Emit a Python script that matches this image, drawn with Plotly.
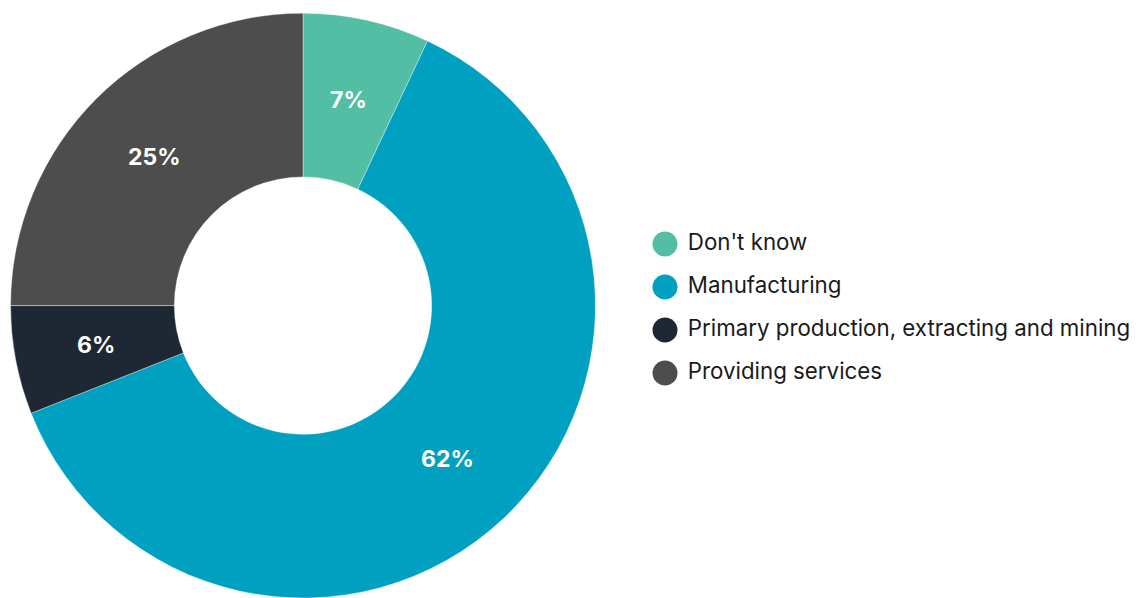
import math
import plotly.graph_objects as go

# Survey breakdown by main business activity (percent of respondents)
categories = ["Don't know", "Manufacturing",
              "Primary production, extracting and mining", "Providing services"]
shares = [7, 62, 6, 25]
colors = ["#52bfa5", "#00a0c0", "#1e2835", "#4d4d4d"]

FONT = "Inter, Liberation Sans, Arial, sans-serif"
W, H = 1140, 598
HOLE = 0.44

# Donut placement (paper fractions)
pie_x = [8 / W, 598 / W]
pie_y = [0.0, 0.978]

fig = go.Figure()

fig.add_trace(go.Pie(
    labels=categories,
    values=shares,
    sort=False,
    direction="clockwise",
    rotation=0,
    hole=HOLE,
    marker=dict(colors=colors, line=dict(color="rgba(255,255,255,0.6)", width=0.6)),
    textinfo="none",
    domain=dict(x=pie_x, y=pie_y),
    showlegend=False,
    hoverinfo="skip",
))

# Percentage labels centred in each ring segment (mid-angle, mid-radius)
cx = (pie_x[0] + pie_x[1]) / 2 * W
cy = (1 - (pie_y[0] + pie_y[1]) / 2) * H
r_out = min((pie_x[1] - pie_x[0]) * W, (pie_y[1] - pie_y[0]) * H) / 2
r_mid = r_out * (1 + HOLE) / 2
total = sum(shares)
cum = 0
for v in shares:
    mid = (cum + v / 2) / total * 2 * math.pi
    cum += v
    px = cx + r_mid * math.sin(mid)
    py = cy - r_mid * math.cos(mid)
    fig.add_annotation(
        x=px / W, y=1 - py / H, xref="paper", yref="paper",
        text=f"{v}%", showarrow=False, xanchor="center", yanchor="middle",
        font=dict(family=FONT, size=23, color="white", weight="bold"),
    )

# Legend drawn as a column of circles with labels beside them
legend_rows = list(range(len(categories)))
fig.add_trace(go.Scatter(
    x=[0] * len(categories),
    y=legend_rows,
    mode="markers",
    marker=dict(size=25, color=colors, line=dict(width=0)),
    xaxis="x", yaxis="y",
    showlegend=False,
    hoverinfo="skip",
))
fig.add_trace(go.Scatter(
    x=[0.6] * len(categories),
    y=legend_rows,
    mode="text",
    text=categories,
    textposition="middle right",
    textfont=dict(family=FONT, size=22.3, color="#1a1a1a"),
    xaxis="x", yaxis="y",
    showlegend=False,
    hoverinfo="skip",
))

fig.update_layout(
    width=W,
    height=H,
    margin=dict(l=0, r=0, t=0, b=0),
    paper_bgcolor="white",
    plot_bgcolor="rgba(0,0,0,0)",
    xaxis=dict(domain=[0.55, 1.0], range=[-1, 12.5], visible=False, fixedrange=True),
    yaxis=dict(domain=[0.3403, 0.6279], range=[3.5, -0.5], visible=False, fixedrange=True),
    showlegend=False,
)

fig.write_html("out.html", config={"displayModeBar": False})
